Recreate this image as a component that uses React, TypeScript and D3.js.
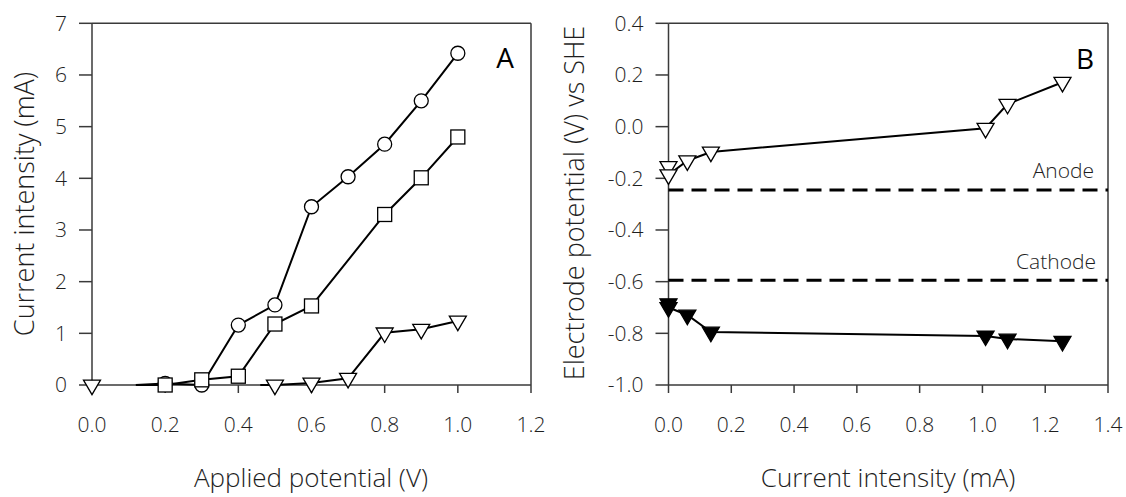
import React from "react";
import * as d3 from "d3";

// ---------- Panel A data ----------
const potentialA = [0.2, 0.3, 0.4, 0.5, 0.6, 0.7, 0.8, 0.9, 1.0];
const circleI = [0.03, 0.0, 1.16, 1.55, 3.45, 4.03, 4.66, 5.5, 6.42];
const squareX = [0.2, 0.3, 0.4, 0.5, 0.6, 0.8, 0.9, 1.0];
const squareI = [0.0, 0.1, 0.17, 1.18, 1.53, 3.3, 4.01, 4.8];
const lineLeadCS = [0.12, 0]; // line start (no marker) for circles & squares
const triX = [0.5, 0.6, 0.7, 0.8, 0.9, 1.0];
const triI = [0.0, 0.04, 0.13, 1.01, 1.08, 1.24];
const lineLeadTri = [0.46, 0];
const loneTri = [0.0, 0.0];
const xTicksA = [0, 0.2, 0.4, 0.6, 0.8, 1.0, 1.2];
const yTicksA = [0, 1, 2, 3, 4, 5, 6, 7];

// ---------- Panel B data ----------
const anodeI = [0.0, 0.0, 0.06, 0.135, 1.01, 1.08, 1.255];
const anodeE = [-0.154, -0.186, -0.132, -0.098, -0.006, 0.087, 0.172];
const cathodeI = [0.0, 0.0, 0.06, 0.135, 1.01, 1.08, 1.255];
const cathodeE = [-0.685, -0.7, -0.729, -0.795, -0.81, -0.822, -0.831];
const anodeRef = -0.245;
const cathodeRef = -0.595;
const xTicksB = [0, 0.2, 0.4, 0.6, 0.8, 1.0, 1.2, 1.4];
const yTicksB = [-1.0, -0.8, -0.6, -0.4, -0.2, 0.0, 0.2, 0.4];

const FONT = "'Open Sans', 'Noto Sans', sans-serif";
const AXIS = "#3a3a3a";
const TXT = "#1e1e1e";

const fmt1 = (d: number) => {
  const s = d.toFixed(1);
  return s === "-0.0" ? "0.0" : s;
};

function triPath(cx: number, cy: number, w = 17, h = 14.5) {
  const top = cy - h / 3;
  const bot = cy + (2 * h) / 3;
  return `M${cx - w / 2},${top}L${cx + w / 2},${top}L${cx},${bot}Z`;
}

type Scale = d3.ScaleLinear<number, number>;

function Frame({ x, y, xTicks, yTicks, xFmt, yFmt }: { x: Scale; y: Scale; xTicks: number[]; yTicks: number[]; xFmt: (d: number) => string; yFmt: (d: number) => string }) {
  const [x0, x1] = x.range();
  const [y0, y1] = y.range();
  return (
    <g>
      <line x1={x0} x2={x1} y1={y1} y2={y1} stroke={AXIS} strokeWidth={1.5} />
      <line x1={x1} x2={x1} y1={y1} y2={y0} stroke={AXIS} strokeWidth={1.5} />
      <line x1={x0} x2={x1} y1={y0} y2={y0} stroke={AXIS} strokeWidth={1.5} />
      <line x1={x0} x2={x0} y1={y1} y2={y0} stroke={AXIS} strokeWidth={1.5} />
      {xTicks.map((t) => (
        <g key={"x" + t}>
          <line x1={x(t)} x2={x(t)} y1={y0} y2={y0 + 8} stroke={AXIS} strokeWidth={1.5} />
          <text x={x(t)} y={432} textAnchor="middle" fontSize={21} fill={TXT} fontFamily={FONT} fontWeight={300}>
            {xFmt(t)}
          </text>
        </g>
      ))}
      {yTicks.map((t) => (
        <g key={"y" + t}>
          <line x1={x0 - 13} x2={x0} y1={y(t)} y2={y(t)} stroke={AXIS} strokeWidth={1.5} />
          <text x={x0 - 25} y={y(t)} dy="0.35em" textAnchor="end" fontSize={21} fill={TXT} fontFamily={FONT} fontWeight={300}>
            {yFmt(t)}
          </text>
        </g>
      ))}
    </g>
  );
}

export default function App() {
  const xA = d3.scaleLinear().domain([0, 1.2]).range([92, 531]);
  const yA = d3.scaleLinear().domain([0, 7]).range([385, 23.3]);
  const xB = d3.scaleLinear().domain([0, 1.4]).range([668.5, 1108]);
  const yB = d3.scaleLinear().domain([-1, 0.4]).range([385, 23.3]);

  const lineA = d3.line<[number, number]>().x((d) => xA(d[0])).y((d) => yA(d[1]));
  const lineB = d3.line<[number, number]>().x((d) => xB(d[0])).y((d) => yB(d[1]));

  const circlePts: [number, number][] = potentialA.map((v, i) => [v, circleI[i]]);
  const squarePts: [number, number][] = squareX.map((v, i) => [v, squareI[i]]);
  const triPts: [number, number][] = triX.map((v, i) => [v, triI[i]]);
  const anodePts: [number, number][] = anodeI.map((v, i) => [v, anodeE[i]]);
  const cathodePts: [number, number][] = cathodeI.map((v, i) => [v, cathodeE[i]]);

  const mk = { fill: "#fff", stroke: "#000", strokeWidth: 1.3 };

  return (
    <svg width={1126} height={497} style={{ position: "absolute", left: 0, top: 0, background: "#fff" }}>
      <rect width={1126} height={497} fill="#fff" />
      {/* Panel A */}
      <Frame x={xA} y={yA} xTicks={xTicksA} yTicks={yTicksA} xFmt={fmt1} yFmt={(d) => String(d)} />
      <path d={lineA([lineLeadCS as [number, number], ...squarePts]) || ""} fill="none" stroke="#000" strokeWidth={2} />
      <path d={lineA([lineLeadCS as [number, number], ...circlePts]) || ""} fill="none" stroke="#000" strokeWidth={2} />
      <path d={lineA([lineLeadTri as [number, number], ...triPts]) || ""} fill="none" stroke="#000" strokeWidth={2} />
      {circlePts.map((p, i) => (
        <circle key={"c" + i} cx={xA(p[0])} cy={yA(p[1])} r={7} {...mk} />
      ))}
      {squarePts.map((p, i) => (
        <rect key={"s" + i} x={xA(p[0]) - 7} y={yA(p[1]) - 7} width={14} height={14} {...mk} />
      ))}
      {[loneTri as [number, number], ...triPts].map((p, i) => (
        <path key={"t" + i} d={triPath(xA(p[0]), yA(p[1]))} {...mk} />
      ))}
      <text x={505} y={68} textAnchor="middle" fontSize={28} fontFamily={FONT} fill="#000">A</text>
      <text transform={`translate(34,204) rotate(-90)`} textAnchor="middle" fontSize={27} fill={TXT} fontFamily={FONT} fontWeight={300}>
        Current intensity (mA)
      </text>
      <text x={311} y={487} textAnchor="middle" fontSize={26} fill={TXT} fontFamily={FONT} fontWeight={300}>
        Applied potential (V)
      </text>

      {/* Panel B */}
      <Frame x={xB} y={yB} xTicks={xTicksB} yTicks={yTicksB} xFmt={fmt1} yFmt={fmt1} />
      <line x1={xB(0)} x2={xB(1.4)} y1={yB(anodeRef)} y2={yB(anodeRef)} stroke="#000" strokeWidth={3} strokeDasharray="15 8" />
      <line x1={xB(0)} x2={xB(1.4)} y1={yB(cathodeRef)} y2={yB(cathodeRef)} stroke="#000" strokeWidth={3} strokeDasharray="15 8" />
      <text x={1094} y={178} textAnchor="end" fontSize={21} fill={TXT} fontFamily={FONT} fontWeight={300}>Anode</text>
      <text x={1096} y={269} textAnchor="end" fontSize={21} fill={TXT} fontFamily={FONT} fontWeight={300}>Cathode</text>
      <path d={lineB(anodePts) || ""} fill="none" stroke="#000" strokeWidth={2} />
      <path d={lineB(cathodePts) || ""} fill="none" stroke="#000" strokeWidth={2} />
      {anodePts.map((p, i) => (
        <path key={"a" + i} d={triPath(xB(p[0]), yB(p[1]))} {...mk} />
      ))}
      {cathodePts.map((p, i) => (
        <path key={"k" + i} d={triPath(xB(p[0]), yB(p[1]))} fill="#000" stroke="#000" strokeWidth={1.3} />
      ))}
      <text x={1085} y={69} textAnchor="middle" fontSize={28} fontFamily={FONT} fill="#000">B</text>
      <text transform={`translate(584,203) rotate(-90)`} textAnchor="middle" fontSize={27} fill={TXT} fontFamily={FONT} fontWeight={300}>
        Electrode potential (V) vs SHE
      </text>
      <text x={888} y={487} textAnchor="middle" fontSize={26} fill={TXT} fontFamily={FONT} fontWeight={300}>
        Current intensity (mA)
      </text>
    </svg>
  );
}
